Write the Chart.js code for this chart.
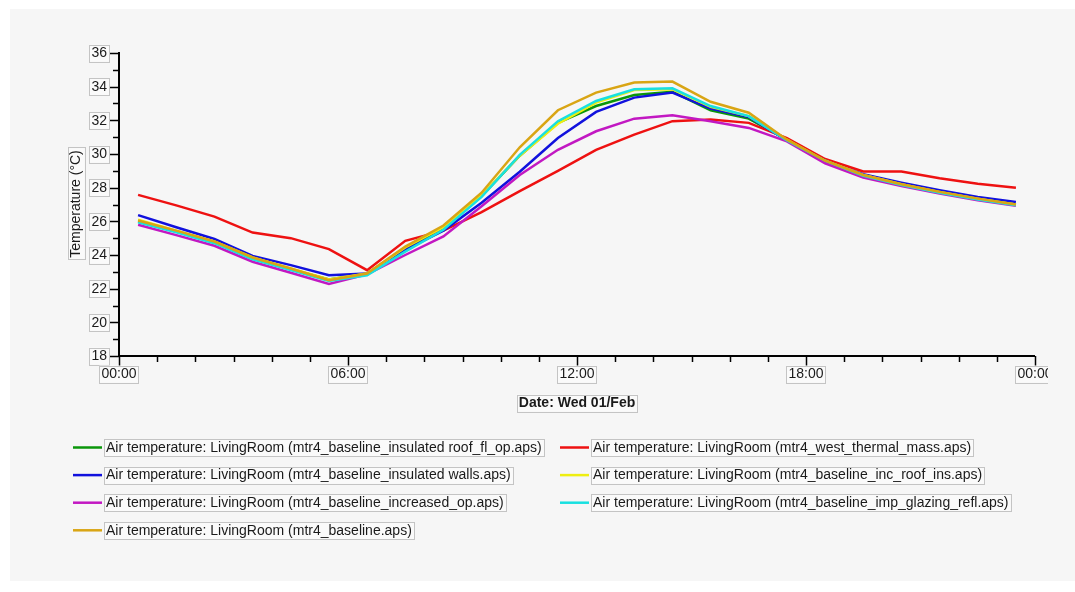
<!DOCTYPE html>
<html>
<head>
<meta charset="utf-8">
<title>Air temperature: LivingRoom</title>
<script src="https://cdn.jsdelivr.net/npm/chart.js@4.4.1/dist/chart.umd.min.js"></script>
<style>
  html, body { margin: 0; padding: 0; background: #ffffff; }
  #wrap { width: 1075px; height: 592px; }
</style>
</head>
<body>
<div id="wrap"><canvas id="temps" width="1075" height="592"></canvas></div>
<script>
// hourly samples, taken at the half hour
const hours = [0.5, 1.5, 2.5, 3.5, 4.5, 5.5, 6.5, 7.5, 8.5, 9.5, 10.5, 11.5,
  12.5, 13.5, 14.5, 15.5, 16.5, 17.5, 18.5, 19.5, 20.5, 21.5, 22.5, 23.5];

const insulatedRoofFlOp = [26.0, 25.4, 24.75, 23.8, 23.15, 22.55, 22.9, 24.4, 25.6, 27.5, 29.9, 31.85,
  32.85, 33.5, 33.7, 32.6, 32.1, 30.85, 29.6, 28.7, 28.2, 27.75, 27.35, 27.0];
const westThermalMass = [27.57, 26.95, 26.28, 25.33, 25.0, 24.35, 23.1, 24.84, 25.45, 26.55, 27.8, 29.0,
  30.25, 31.15, 31.95, 32.05, 31.85, 30.95, 29.7, 28.96, 28.96, 28.56, 28.23, 28.0];
const insulatedWalls = [26.37, 25.65, 24.95, 23.95, 23.4, 22.8, 22.9, 24.3, 25.45, 27.1, 28.95, 30.95,
  32.5, 33.35, 33.65, 32.7, 32.2, 30.8, 29.55, 28.8, 28.3, 27.85, 27.45, 27.15];
const incRoofIns = [26.1, 25.45, 24.8, 23.85, 23.2, 22.55, 22.9, 24.45, 25.65, 27.55, 29.9, 31.8,
  33.05, 33.8, 33.85, 32.8, 32.25, 30.85, 29.6, 28.75, 28.2, 27.75, 27.35, 27.0];
const increasedOp = [25.8, 25.18, 24.55, 23.6, 22.95, 22.28, 22.85, 24.0, 25.1, 26.9, 28.75, 30.25,
  31.35, 32.1, 32.3, 31.95, 31.55, 30.75, 29.45, 28.6, 28.1, 27.65, 27.25, 26.92];
const impGlazingRefl = [25.95, 25.35, 24.7, 23.75, 23.1, 22.45, 22.8, 24.2, 25.5, 27.45, 29.95, 31.95,
  33.15, 33.85, 33.9, 32.85, 32.25, 30.8, 29.6, 28.7, 28.15, 27.7, 27.3, 26.95];
const baseline = [26.05, 25.45, 24.8, 23.85, 23.2, 22.5, 22.9, 24.5, 25.75, 27.7, 30.4, 32.6,
  33.65, 34.25, 34.3, 33.1, 32.45, 30.85, 29.6, 28.75, 28.2, 27.75, 27.35, 27.0];

const seriesNames = [
  'Air temperature: LivingRoom (mtr4_baseline_insulated roof_fl_op.aps)',
  'Air temperature: LivingRoom (mtr4_west_thermal_mass.aps)',
  'Air temperature: LivingRoom (mtr4_baseline_insulated walls.aps)',
  'Air temperature: LivingRoom (mtr4_baseline_inc_roof_ins.aps)',
  'Air temperature: LivingRoom (mtr4_baseline_increased_op.aps)',
  'Air temperature: LivingRoom (mtr4_baseline_imp_glazing_refl.aps)',
  'Air temperature: LivingRoom (mtr4_baseline.aps)',
];
const seriesValues = [insulatedRoofFlOp, westThermalMass, insulatedWalls, incRoofIns,
  increasedOp, impGlazingRefl, baseline];
const seriesColors = ['#0a960a', '#ee1111', '#1111dd', '#eeee11', '#c218c2', '#18e0e0', '#d9a514'];

const xTicks = [0, 6, 12, 18, 24];
const xTickLabels = ['00:00', '06:00', '12:00', '18:00', '00:00'];
const yTicks = [18, 20, 22, 24, 26, 28, 30, 32, 34, 36];

const FONT = '"Liberation Sans", Arial, sans-serif';

function boxedText(ctx, text, x, y, align) {
  // label with a thin grey frame around it
  const w = ctx.measureText(text).width;
  let left = x;
  if (align === 'center') left = x - w / 2;
  if (align === 'right') left = x - w;
  ctx.fillStyle = '#fafafa';
  ctx.fillRect(left - 2, y - 8.5, w + 4, 17);
  ctx.strokeStyle = '#c4c4c4';
  ctx.lineWidth = 1;
  ctx.strokeRect(Math.round(left - 2) + 0.5, Math.round(y - 8.5) + 0.5, Math.round(w + 4), 17);
  ctx.fillStyle = '#1a1a1a';
  ctx.textAlign = 'left';
  ctx.textBaseline = 'middle';
  ctx.fillText(text, left, y + 0.5);
}

const panelPlugin = {
  id: 'panel',
  beforeDraw(chart) {
    const ctx = chart.ctx;
    ctx.save();
    ctx.fillStyle = '#f6f6f6';
    ctx.fillRect(10, 9, 1065, 572);
    ctx.restore();
  },
  afterDraw(chart) {
    const ctx = chart.ctx;
    const area = chart.chartArea;
    const xs = chart.scales.x;
    const ys = chart.scales.y;
    ctx.save();

    // axis lines
    ctx.strokeStyle = '#000';
    ctx.lineWidth = 2;
    ctx.beginPath();
    ctx.moveTo(area.left, area.top - 1);
    ctx.lineTo(area.left, area.bottom);
    ctx.lineTo(area.right, area.bottom);
    ctx.stroke();

    // y ticks: major every 2 degrees, minor every degree
    ctx.lineWidth = 1.5;
    for (let v = 18; v <= 36; v++) {
      const py = Math.round(ys.getPixelForValue(v)) + 0.5;
      const len = v % 2 === 0 ? 10 : 6;
      ctx.beginPath();
      ctx.moveTo(area.left - len, py);
      ctx.lineTo(area.left, py);
      ctx.stroke();
    }
    // x ticks: major every 6 hours, minor every hour
    for (let h = 0; h <= 24; h++) {
      const px = Math.round(xs.getPixelForValue(h)) + 0.5;
      const len = h % 6 === 0 ? 10 : 6;
      ctx.beginPath();
      ctx.moveTo(px, area.bottom);
      ctx.lineTo(px, area.bottom + len);
      ctx.stroke();
    }

    ctx.font = '14px ' + FONT;
    yTicks.forEach((v) => {
      boxedText(ctx, String(v), area.left - 12, ys.getPixelForValue(v), 'right');
    });

    ctx.save();
    ctx.beginPath();
    ctx.rect(0, 0, 1048, 592);
    ctx.clip();
    xTicks.forEach((h, i) => {
      boxedText(ctx, xTickLabels[i], xs.getPixelForValue(h), area.bottom + 18, 'center');
    });
    ctx.restore();

    // axis titles
    ctx.save();
    ctx.translate(76, 204);
    ctx.rotate(-Math.PI / 2);
    ctx.font = '14px ' + FONT;
    boxedText(ctx, 'Temperature (°C)', 0, 0, 'center');
    ctx.restore();

    ctx.font = 'bold 14px ' + FONT;
    boxedText(ctx, 'Date: Wed 01/Feb', 577, area.bottom + 47, 'center');

    // legend, two columns
    ctx.font = '14px ' + FONT;
    seriesNames.forEach((name, i) => {
      const col = i % 2;
      const row = Math.floor(i / 2);
      const y = 447.5 + row * 27.6;
      const x0 = col === 0 ? 73 : 560;
      ctx.strokeStyle = seriesColors[i];
      ctx.lineWidth = 2.5;
      ctx.beginPath();
      ctx.moveTo(x0, y);
      ctx.lineTo(x0 + 29, y);
      ctx.stroke();
      boxedText(ctx, name, x0 + 33, y, 'left');
    });

    ctx.restore();
  },
};

const datasets = seriesValues.map((vals, i) => ({
  label: seriesNames[i],
  data: hours.map((h, k) => ({ x: h, y: vals[k] })),
  borderColor: seriesColors[i],
  backgroundColor: seriesColors[i],
  borderWidth: 2.5,
  pointRadius: 0,
  tension: 0,
  fill: false,
  order: seriesValues.length - 1 - i,
}));

new Chart(document.getElementById('temps'), {
  type: 'line',
  data: { datasets: datasets },
  options: {
    responsive: false,
    devicePixelRatio: 1,
    animation: false,
    layout: { padding: { left: 119, top: 53, right: 40, bottom: 236 } },
    plugins: {
      legend: { display: false },
      tooltip: { enabled: false },
      title: { display: false },
    },
    scales: {
      x: { type: 'linear', min: 0, max: 24, display: false },
      y: { type: 'linear', min: 18, max: 36, display: false },
    },
  },
  plugins: [panelPlugin],
});
</script>
</body>
</html>
